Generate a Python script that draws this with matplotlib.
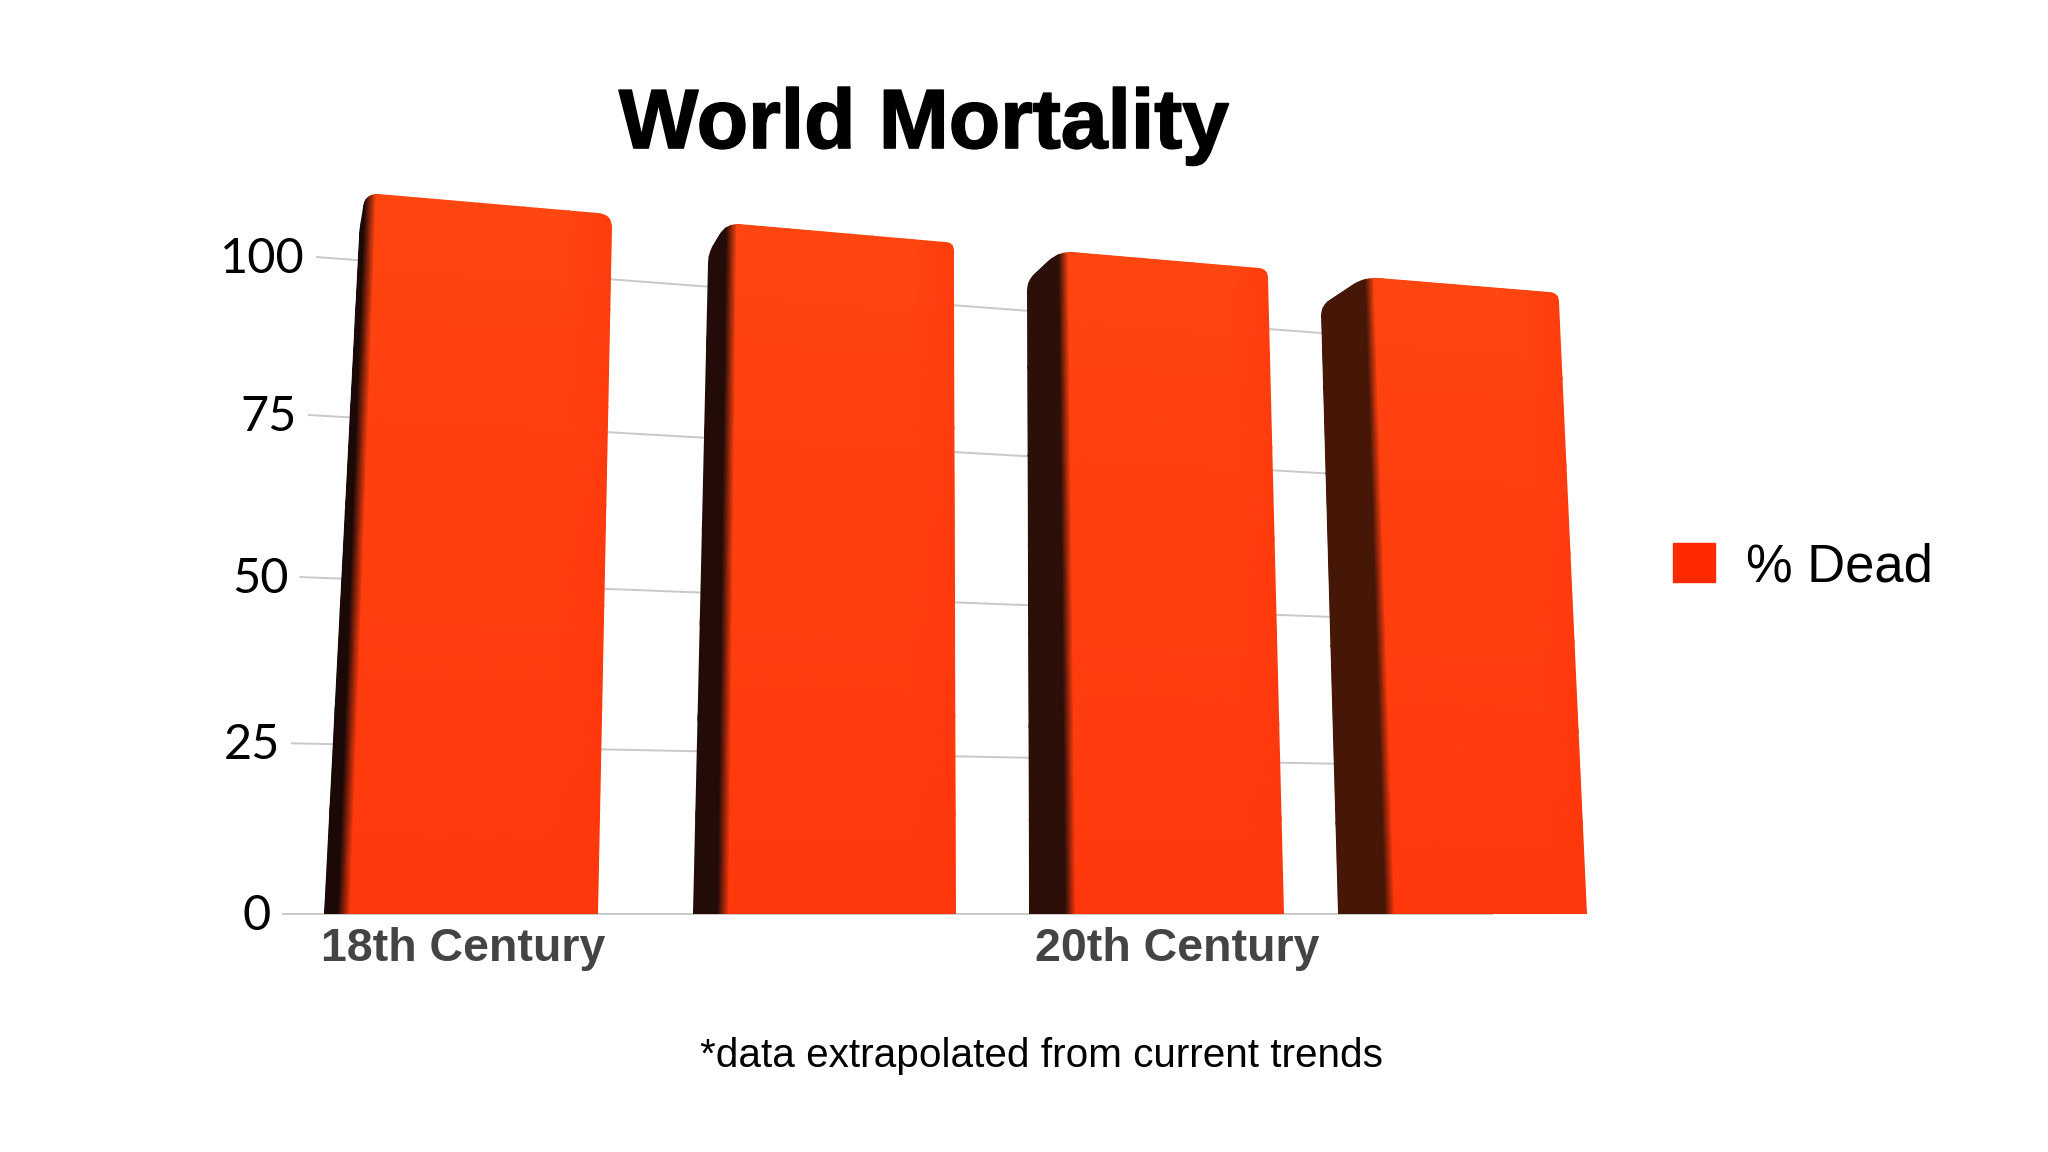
import numpy as np
import matplotlib
matplotlib.use("Agg")
import matplotlib.pyplot as plt
import matplotlib.patheffects as pe
from matplotlib.colors import LinearSegmentedColormap
from matplotlib.patches import Patch, PathPatch
from matplotlib.path import Path

title = "World Mortality"
footnote = "*data extrapolated from current trends"
legend_label = "% Dead"
categories = ["18th Century", "", "20th Century", ""]
values = [100, 100, 100, 100]
y_ticks = [0, 25, 50, 75, 100]
side_colors = ["#1a0906", "#230c08", "#2c0f08", "#461607"]
label_shift = [-7, 0, 1, 0]

bar_w = 0.675
band = 0.03


def homography(src, dst):
    # plane -> pixels, from 4 point pairs
    A = []
    b = []
    for (u, v), (x, y) in zip(src, dst):
        A.append([u, v, 1, 0, 0, 0, -u * x, -v * x])
        A.append([0, 0, 0, u, v, 1, -u * y, -v * y])
        b += [x, y]
    h = np.linalg.solve(np.array(A, float), np.array(b, float))
    return np.append(h, 1).reshape(3, 3)


def project(H, u, v):
    u, v = np.broadcast_arrays(np.asarray(u, float), np.asarray(v, float))
    w = H[2, 0] * u + H[2, 1] * v + H[2, 2]
    return (H[0, 0] * u + H[0, 1] * v + H[0, 2]) / w, (H[1, 0] * u + H[1, 1] * v + H[1, 2]) / w


def rounded(pts, radii):
    verts = []
    codes = []
    n = len(pts)
    for i in range(n):
        p = np.array(pts[i], float)
        r = radii[i]
        if r == 0:
            verts.append(p)
            codes.append(Path.LINETO if i else Path.MOVETO)
            continue
        a = np.array(pts[i - 1], float) - p
        c = np.array(pts[(i + 1) % n], float) - p
        a = p + a / np.hypot(*a) * r
        c = p + c / np.hypot(*c) * r
        verts += [a, p, c]
        codes += [Path.LINETO if i else Path.MOVETO, Path.CURVE3, Path.CURVE3]
    verts.append(verts[0])
    codes.append(Path.CLOSEPOLY)
    return Path(verts, codes)


fig = plt.figure(figsize=(20.48, 11.52), dpi=100, facecolor="white")
ax = fig.add_axes([0, 0, 1, 1])
ax.set_xlim(0, 2048)
ax.set_ylim(1152, 0)
ax.axis("off")

# the three planes of the 3D look: wall, bar fronts, bar backs
first = (1 - bar_w) / 2
last = 3 + first
wall = homography([(0, 0), (last, 0), (0, 100), (last, 100)],
                  [(282, 914), (1338, 914), (316, 257), (1321, 333)])
front = homography([(first, 0), (last + bar_w, 0), (first, 100), (last + bar_w, 100)],
                   [(338, 914), (1587, 914), (365, 193), (1559, 293)])
back = homography([(first, 0), (last, 0), (first, 100), (last, 100)],
                  [(324, 914), (1338, 914), (360, 224), (1321, 306)])

for t in y_ticks:
    x, y = project(wall, np.array([0, 3.7]), t)
    ax.plot(x, y, color="#c9c9c9", lw=1.4, zorder=1, solid_capstyle="butt")
    ax.text(x[0] - 11, y[0] + 2, str(t), ha="right", va="center", fontsize=35,
            family="Lato", color="black")

for i, val in enumerate(values):
    left = i + first
    right = left + bar_w
    vs = np.linspace(0, val, 8)
    us = np.r_[left, left + band, np.linspace(left + 2 * band, right, 6)]
    fx, fy = project(front, us[:, None], vs[None, :])
    bx, by = project(back, left, vs)
    X = np.vstack([bx, fx])
    Y = np.vstack([by, fy])
    # 0 = side shadow, then orange getting brighter towards the top
    C = np.zeros_like(X)
    shade = 0.55 + 0.4 * vs / val
    C[2:] = shade
    C[-1] = shade * 0.55 + 0.2
    cmap = LinearSegmentedColormap.from_list(
        "bar%d" % i, [(0, side_colors[i]), (0.02, side_colors[i]), (0.5, "#ff370c"), (1, "#ff4610")])
    mesh = ax.pcolormesh(X, Y, C, cmap=cmap, vmin=0, vmax=1, shading="gouraud", zorder=3)

    tr = 14 if i == 0 else 9
    pts = [(X[0, 0], Y[0, 0]), (X[0, -1], Y[0, -1]), (X[1, -1], Y[1, -1]),
           (X[-1, -1], Y[-1, -1]), (X[-1, 0], Y[-1, 0])]
    clip = PathPatch(rounded(pts, [0, 10, 14, tr, 0]), transform=ax.transData, fc="none", ec="none")
    ax.add_patch(clip)
    mesh.set_clip_path(clip)

    if categories[i]:
        cx, _ = project(front, (left + right) / 2, 0)
        ax.text(cx + label_shift[i], 949, categories[i], ha="center", va="center", fontsize=33.5,
                fontweight="bold", family="Liberation Sans", color="#444444")

ax.text(924, 126, title, ha="center", va="center", fontsize=60.5, fontweight="bold",
        family="Liberation Sans", color="black",
        path_effects=[pe.withStroke(linewidth=1.2, foreground="black")])
ax.text(1042, 1056, footnote, ha="center", va="center", fontsize=29.2,
        family="Liberation Sans", color="black")

ax.legend(handles=[Patch(color="#ff2a00", label=legend_label)], loc="center left",
          bbox_to_anchor=(1673, 567), bbox_transform=ax.transData, frameon=False,
          prop={"family": "Liberation Sans", "size": 37.8}, borderpad=0, borderaxespad=0,
          handlelength=0.8, handleheight=0.78, handletextpad=0.6)

fig.savefig("out.png", dpi=100)
